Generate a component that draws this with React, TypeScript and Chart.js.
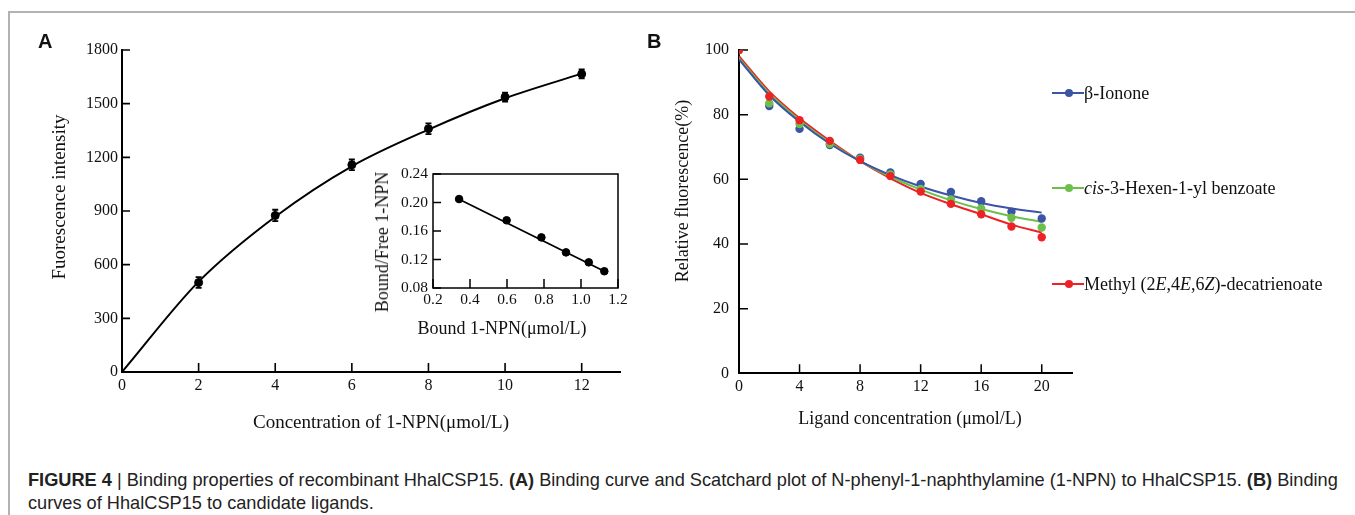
import React, { useEffect, useRef } from "react";
import { Chart, registerables } from "chart.js";
Chart.register(...registerables);

// ---------- Panel A: binding curve ----------
const concA = [2, 4, 6, 8, 10, 12];
const fluorA = [500, 875, 1158, 1360, 1537, 1666];
const errA = [30, 32, 30, 30, 25, 25];
const fitConcA = [0, 2, 4, 6, 8, 10, 12];
const fitFluorA = [0, 505, 868, 1150, 1355, 1530, 1668];
const yTicksA = [0, 300, 600, 900, 1200, 1500, 1800];
const xTicksA = [0, 2, 4, 6, 8, 10, 12];

// ---------- Inset: Scatchard plot ----------
const boundInset = [0.341, 0.598, 0.786, 0.919, 1.042, 1.126];
const ratioInset = [0.2048, 0.175, 0.151, 0.13, 0.116, 0.1035];
const fitBoundInset = [0.341, 1.126];
const fitRatioInset = [0.2045, 0.1035];

// ---------- Panel B: competitive binding ----------
const ligandConc = [0, 2, 4, 6, 8, 10, 12, 14, 16, 18, 20];
const ionone = [100, 82.7, 75.6, 70.6, 66.7, 62.1, 58.6, 56.1, 53.2, 50.0, 47.9];
const hexenyl = [100, 83.5, 77.1, 71.0, 66.3, 61.5, 57.0, 53.8, 51.0, 48.1, 45.1];
const methyl = [100, 85.6, 78.3, 71.9, 66.0, 61.0, 56.2, 52.4, 49.2, 45.4, 42.1];
const ioneFit = [97.1, 86.0, 77.8, 71.0, 65.6, 61.3, 57.8, 55.0, 52.7, 51.0, 49.7];
const hexenylFit = [97.5, 86.6, 78.3, 71.4, 65.6, 60.8, 56.8, 53.5, 50.8, 48.6, 46.8];
const methylFit = [98.1, 87.2, 78.9, 71.9, 65.6, 60.3, 55.8, 52.3, 49.2, 46.0, 43.5];
const seriesNames = ["β-Ionone", "cis-3-Hexen-1-yl benzoate", "Methyl (2E,4E,6Z)-decatrienoate"];
const seriesColors = ["#3b54a5", "#6cc04a", "#ec2227"];

const SERIF = "'Liberation Serif', 'Times New Roman', serif";
const SANS = "'Liberation Sans', Arial, sans-serif";

const pts = (xs: number[], ys: number[]) => xs.map((x, i) => ({ x, y: ys[i] }));

const inwardTicks = {
  id: "inwardTicks",
  beforeDatasetsDraw(chart: any, _a: any, opts: any) {
    const { ctx, chartArea } = chart;
    const xs = chart.scales.x;
    const ys = chart.scales.y;
    ctx.save();
    ctx.strokeStyle = "#000";
    ctx.lineWidth = opts.width || 1.5;
    ctx.beginPath();
    xs.ticks.forEach((t: any) => {
      const px = xs.getPixelForValue(t.value);
      ctx.moveTo(px, chartArea.bottom);
      ctx.lineTo(px, chartArea.bottom - opts.xLength);
    });
    ys.ticks.forEach((t: any) => {
      const py = ys.getPixelForValue(t.value);
      ctx.moveTo(chartArea.left, py);
      ctx.lineTo(chartArea.left + opts.yLength, py);
    });
    ctx.stroke();
    ctx.restore();
  },
};

const boxPlugin = {
  id: "boxFrame",
  beforeDatasetsDraw(chart: any, _a: any, opts: any) {
    if (!opts || !opts.enabled) return;
    const { ctx, chartArea } = chart;
    ctx.save();
    ctx.strokeStyle = "#000";
    ctx.lineWidth = 1.5;
    ctx.strokeRect(chartArea.left, chartArea.top, chartArea.right - chartArea.left, chartArea.bottom - chartArea.top);
    ctx.restore();
  },
};

const errorBars = {
  id: "errorBars",
  afterDatasetsDraw(chart: any, _a: any, opts: any) {
    if (!opts || !opts.errors) return;
    const { ctx } = chart;
    const xs = chart.scales.x;
    const ys = chart.scales.y;
    const ds = chart.data.datasets[opts.datasetIndex];
    ctx.save();
    ctx.strokeStyle = "#000";
    ctx.lineWidth = 1.8;
    ctx.beginPath();
    ds.data.forEach((p: any, i: number) => {
      const px = xs.getPixelForValue(p.x);
      const top = ys.getPixelForValue(p.y + opts.errors[i]);
      const bot = ys.getPixelForValue(p.y - opts.errors[i]);
      ctx.moveTo(px, top);
      ctx.lineTo(px, bot);
      ctx.moveTo(px - 3, top);
      ctx.lineTo(px + 3, top);
      ctx.moveTo(px - 3, bot);
      ctx.lineTo(px + 3, bot);
    });
    ctx.stroke();
    ctx.restore();
  },
};

function useChart(ref: React.RefObject<HTMLCanvasElement | null>, makeConfig: () => any) {
  useEffect(() => {
    if (!ref.current) return;
    const chart = new Chart(ref.current, makeConfig());
    return () => chart.destroy();
  }, []);
}

const tickFont = (size: number) => ({ family: SERIF, size });
const noGrid = { display: false, drawTicks: false };

function configA() {
  return {
    type: "scatter",
    data: {
      datasets: [
        {
          data: pts(fitConcA, fitFluorA),
          showLine: true,
          borderColor: "#000",
          borderWidth: 2,
          pointRadius: 0,
          cubicInterpolationMode: "monotone",
          order: 2,
        },
        {
          data: pts(concA, fluorA),
          backgroundColor: "#000",
          borderColor: "#000",
          pointRadius: 4,
          order: 1,
        },
      ],
    },
    plugins: [inwardTicks, errorBars],
    options: {
      animation: false,
      responsive: false,
      layout: { padding: { left: 60, right: 20, top: 50, bottom: 38 } },
      plugins: {
        legend: { display: false },
        tooltip: { enabled: false },
        inwardTicks: { xLength: 9, yLength: 8, width: 1.6 },
        errorBars: { datasetIndex: 1, errors: errA },
      },
      scales: {
        x: {
          type: "linear",
          min: 0,
          max: 13,
          afterBuildTicks: (s: any) => { s.ticks = xTicksA.map((v) => ({ value: v })); },
          ticks: { font: tickFont(16), color: "#111", padding: 4, callback: (v: number) => String(v) },
          grid: noGrid,
          border: { display: true, color: "#000", width: 2 },
          afterFit: (s: any) => { s.height = 30; },
        },
        y: {
          min: 0,
          max: 1800,
          afterBuildTicks: (s: any) => { s.ticks = yTicksA.map((v) => ({ value: v })); },
          ticks: { font: tickFont(16), color: "#111", padding: 4, callback: (v: number) => String(v) },
          grid: noGrid,
          border: { display: true, color: "#000", width: 2 },
          afterFit: (s: any) => { s.width = 62; },
        },
      },
    },
  };
}

function configInset() {
  return {
    type: "scatter",
    data: {
      datasets: [
        {
          data: pts(fitBoundInset, fitRatioInset),
          showLine: true,
          borderColor: "#000",
          borderWidth: 1.8,
          pointRadius: 0,
          order: 2,
        },
        {
          data: pts(boundInset, ratioInset),
          backgroundColor: "#000",
          borderColor: "#000",
          pointRadius: 3.8,
          order: 1,
        },
      ],
    },
    plugins: [inwardTicks, boxPlugin],
    options: {
      animation: false,
      responsive: false,
      layout: { padding: { left: 0, right: 22, top: 24, bottom: 8 } },
      plugins: {
        legend: { display: false },
        tooltip: { enabled: false },
        inwardTicks: { xLength: 9, yLength: 8, width: 1.5 },
        boxFrame: { enabled: true },
      },
      scales: {
        x: {
          type: "linear",
          min: 0.2,
          max: 1.2,
          ticks: { stepSize: 0.2, font: tickFont(15.5), color: "#111", padding: 3, callback: (v: number) => v.toFixed(1) },
          grid: noGrid,
          border: { display: false },
          afterFit: (s: any) => { s.height = 24; },
        },
        y: {
          min: 0.08,
          max: 0.24,
          ticks: { stepSize: 0.04, font: tickFont(15.5), color: "#111", padding: 5, callback: (v: number) => v.toFixed(2) },
          grid: noGrid,
          border: { display: false },
          afterFit: (s: any) => { s.width = 43; },
        },
      },
    },
  };
}

function configB() {
  const data = [ionone, hexenyl, methyl];
  const fits = [ioneFit, hexenylFit, methylFit];
  const datasets: any[] = [];
  [2, 1, 0].forEach((k) => {
    datasets.push({
      label: seriesNames[k],
      data: pts(ligandConc, data[k]),
      backgroundColor: seriesColors[k],
      borderColor: seriesColors[k],
      pointRadius: 4.2,
      pointBorderWidth: 0,
    });
  });
  [0, 1, 2].forEach((k) => {
    datasets.push({
      label: seriesNames[k] + " fit",
      data: pts(ligandConc, fits[k]),
      showLine: true,
      borderColor: seriesColors[k],
      borderWidth: 2,
      pointRadius: 0,
      cubicInterpolationMode: "monotone",
    });
  });
  return {
    type: "scatter",
    data: { datasets },
    plugins: [inwardTicks],
    options: {
      animation: false,
      responsive: false,
      layout: { padding: { left: 50, right: 283, top: 50, bottom: 36.7 } },
      plugins: {
        legend: { display: false },
        tooltip: { enabled: false },
        inwardTicks: { xLength: 9, yLength: 9, width: 1.5 },
      },
      scales: {
        x: {
          type: "linear",
          min: 0,
          max: 22,
          ticks: { stepSize: 4, includeBounds: false, font: tickFont(16), color: "#111", padding: 4, callback: (v: number) => String(v) },
          grid: noGrid,
          border: { display: true, color: "#000", width: 2 },
          afterFit: (s: any) => { s.height = 30; },
        },
        y: {
          min: 0,
          max: 100,
          ticks: { stepSize: 20, font: tickFont(16), color: "#111", padding: 10, callback: (v: number) => String(v) },
          grid: noGrid,
          border: { display: true, color: "#000", width: 2 },
          afterFit: (s: any) => { s.width = 49; },
        },
      },
    },
  };
}

const abs = (o: React.CSSProperties): React.CSSProperties => ({ position: "absolute", ...o });

function Title({ x, y, text, rotate, size = 18 }: { x: number; y: number; text: React.ReactNode; rotate?: boolean; size?: number }) {
  return (
    <div
      style={abs({
        left: x,
        top: y,
        transform: `translate(-50%, -50%)${rotate ? " rotate(-90deg)" : ""}`,
        fontFamily: SERIF,
        fontSize: size,
        color: "#111",
        whiteSpace: "nowrap",
        lineHeight: 1,
      })}
    >
      {text}
    </div>
  );
}

function LegendItem({ y, color, children }: { y: number; color: string; children: React.ReactNode }) {
  return (
    <div style={abs({ left: 1052, top: y - 12, height: 24, width: 300 })}>
      <div style={abs({ left: 0, top: 11, width: 32, height: 2, background: color })} />
      <div style={abs({ left: 13, top: 8, width: 8, height: 8, borderRadius: 4, background: color })} />
      <div style={abs({ left: 32, top: 0, lineHeight: "24px", fontFamily: SERIF, fontSize: 18, color: "#111", whiteSpace: "nowrap" })}>
        {children}
      </div>
    </div>
  );
}

export default function App() {
  const refA = useRef<HTMLCanvasElement>(null);
  const refI = useRef<HTMLCanvasElement>(null);
  const refB = useRef<HTMLCanvasElement>(null);
  useChart(refA, configA);
  useChart(refI, configInset);
  useChart(refB, configB);

  return (
    <div style={abs({ left: 0, top: 0, width: 1355, height: 515, background: "#fff", overflow: "hidden" })}>
      <div
        style={abs({
          left: 8,
          top: 11,
          width: 1345,
          height: 520,
          borderTop: "2px solid #b2b2b2",
          borderLeft: "2px solid #b2b2b2",
          borderRight: "1px solid #e0e0e0",
        })}
      />
      <canvas ref={refA} width={640} height={440} style={abs({ left: 0, top: 0, width: 640, height: 440 })} />
      <canvas ref={refI} width={250} height={170} style={abs({ left: 390, top: 150, width: 250, height: 170 })} />
      <canvas ref={refB} width={715} height={440} style={abs({ left: 640, top: 0, width: 715, height: 440 })} />

      <div style={abs({ left: 38, top: 31, fontFamily: SANS, fontWeight: "bold", fontSize: 20, lineHeight: 1, color: "#111" })}>A</div>
      <div style={abs({ left: 647, top: 31, fontFamily: SANS, fontWeight: "bold", fontSize: 20, lineHeight: 1, color: "#111" })}>B</div>

      <Title x={58} y={197} text="Fuorescence intensity" rotate size={19} />
      <Title x={381} y={421} text="Concentration of 1-NPN(μmol/L)" size={19} />
      <Title x={382} y={242} text="Bound/Free 1-NPN" rotate size={18} />
      <Title x={502} y={328} text="Bound 1-NPN(μmol/L)" size={18} />
      <Title x={682} y={191} text="Relative fluorescence(%)" rotate size={18} />
      <Title x={910} y={418} text="Ligand concentration (μmol/L)" size={18} />

      <LegendItem y={93} color={seriesColors[0]}>β-Ionone</LegendItem>
      <LegendItem y={188} color={seriesColors[1]}>
        <i>cis</i>-3-Hexen-1-yl benzoate
      </LegendItem>
      <LegendItem y={284} color={seriesColors[2]}>
        Methyl (2<i>E</i>,4<i>E</i>,6<i>Z</i>)-decatrienoate
      </LegendItem>

      <div
        style={abs({
          left: 28,
          top: 469,
          width: 1325,
          fontFamily: SANS,
          fontSize: 18.2,
          lineHeight: "23px",
          color: "#222",
          whiteSpace: "nowrap",
        })}
      >
        <b>FIGURE 4</b> | Binding properties of recombinant HhalCSP15. <b>(A)</b> Binding curve and Scatchard plot of N-phenyl-1-naphthylamine (1-NPN) to HhalCSP15. <b>(B)</b> Binding
        <br />
        curves of HhalCSP15 to candidate ligands.
      </div>
    </div>
  );
}
